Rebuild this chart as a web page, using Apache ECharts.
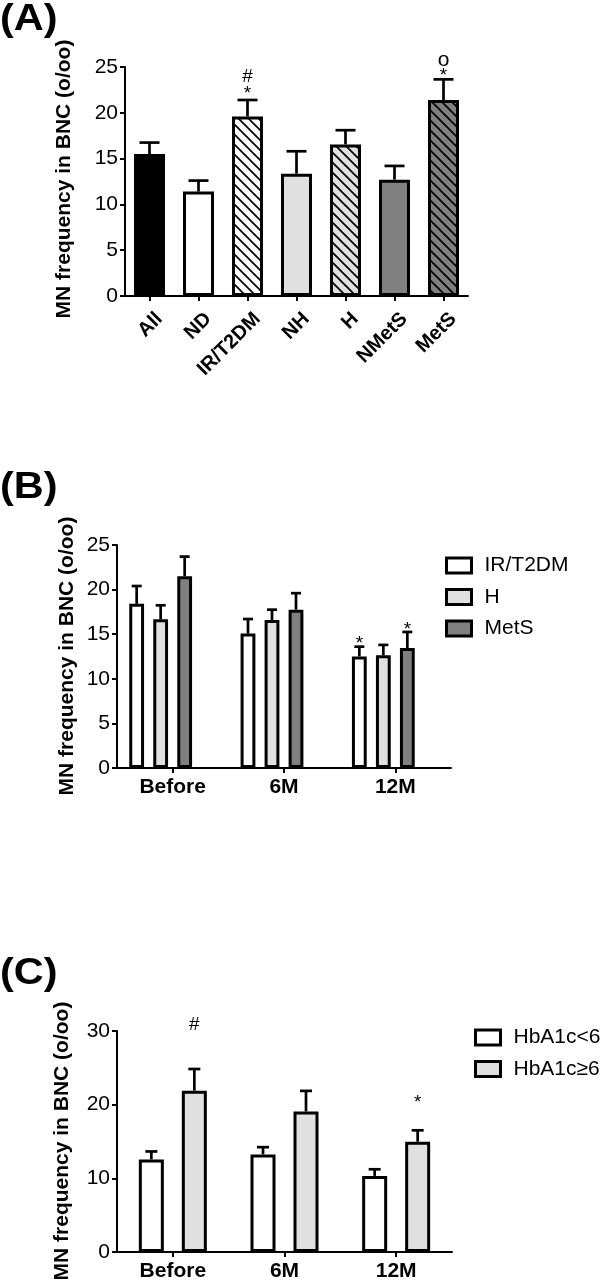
<!DOCTYPE html>
<html>
<head>
<meta charset="utf-8">
<script src="https://cdn.jsdelivr.net/npm/echarts@6/dist/echarts.min.js"></script>
<style>
html,body{margin:0;padding:0;background:#fff;}
#chart{width:600px;height:1282px;}
</style>
</head>
<body>
<div id="chart"></div>
<script>
// ---------- DATA ----------
const yAxisTitle = 'MN frequency in BNC (o/oo)';

// Panel A
const catsA = ['All', 'ND', 'IR/T2DM', 'NH', 'H', 'NMetS', 'MetS'];
const meanA = [15.5, 11.4, 19.6, 13.35, 16.55, 12.7, 21.4];
const errA  = [1.25, 1.2, 1.8, 2.45, 1.55, 1.5, 2.25];
// annotations: [categoryIndex, yValue, text]
const annotA = [[2, 22.5, '*'], [2, 23.9, '#'], [6, 24.45, '*'], [6, 25.75, 'o']];
const ticksA = [0, 5, 10, 15, 20, 25];

// Panel B
const catsB = ['Before', '6M', '12M'];
const namesB = ['IR/T2DM', 'H', 'MetS'];
const irB    = [18.4, 15.07, 12.5];
const irErrB = [2.0, 1.63, 1.1];
const hB     = [16.67, 16.6, 12.63];
const hErrB  = [1.57, 1.15, 1.17];
const metsB  = [21.5, 17.75, 13.45];
const metsErrB = [2.2, 1.85, 1.8];
// annotations: [categoryIndex, seriesIndex, yValue, text]
const annotB = [[2, 0, 14.4, '*'], [2, 2, 16.0, '*']];
const ticksB = [0, 5, 10, 15, 20, 25];

// Panel C
const catsC = ['Before', '6M', '12M'];
const namesC = ['HbA1c<6', 'HbA1c\u22656'];
const lowC    = [12.57, 13.25, 10.33];
const lowErrC = [1.08, 0.98, 0.9];
const highC    = [21.9, 19.08, 14.96];
const highErrC = [2.94, 2.79, 1.56];
const annotC = [[0, 1, 30.8, '#'], [2, 1, 20.8, '*']];
const ticksC = [0, 10, 20, 30];

// ---------- STYLE ----------
const FONT = '"Liberation Sans", Arial, Helvetica, sans-serif';
const WHITE = '#ffffff', LIGHT = '#e0e0e0', DARK = '#808080', BLACK = '#000000';
const BW = 3;

function hatch(bg) {
  const c = document.createElement('canvas');
  const s = 10;
  c.width = s; c.height = s;
  const ctx = c.getContext('2d');
  ctx.fillStyle = bg; ctx.fillRect(0, 0, s, s);
  ctx.strokeStyle = '#000'; ctx.lineWidth = 1.7;
  for (let k = -1; k <= 1; k++) {
    ctx.beginPath();
    ctx.moveTo(-2, -2 + k * s);
    ctx.lineTo(s + 2, s + 2 + k * s);
    ctx.stroke();
  }
  return { image: c, repeat: 'repeat' };
}
const fillsA = [BLACK, WHITE, hatch(WHITE), LIGHT, hatch(LIGHT), DARK, hatch(DARK)];

const chart = echarts.init(document.getElementById('chart'), null, { renderer: 'canvas' });

function axisCommon(extra) {
  return Object.assign({
    axisLine: { show: true, lineStyle: { color: '#000', width: 2 } },
    axisTick: { show: true, length: 5, inside: false, lineStyle: { color: '#000', width: 2 } },
    splitLine: { show: false }
  }, extra);
}

function yAxisDef(idx, ticks) {
  const step = ticks[1] - ticks[0];
  return axisCommon({
    type: 'value', gridIndex: idx, min: ticks[0], max: ticks[ticks.length - 1], interval: step,
    axisLabel: { color: '#000', fontFamily: FONT, fontSize: 21, margin: 7 }
  });
}

function xAxisDef(idx, cats, labelExtra) {
  return axisCommon({
    type: 'category', gridIndex: idx, data: cats, boundaryGap: true,
    axisTick: { show: true, alignWithLabel: true, length: 5, lineStyle: { color: '#000', width: 2 } },
    axisLabel: Object.assign({ color: '#000', fontFamily: FONT, fontSize: 21, fontWeight: 'bold', interval: 0 }, labelExtra)
  });
}

// bar geometry per panel
const geoA = { w: 31, gap: 0, n: 1, cap: 10 };
const geoB = { w: 14.8, gap: 9.2, n: 4, cap: 5 };
const geoC = { w: 25, gap: 18, n: 2, cap: 6 };
function slotOffset(g, i) { return (i - (g.n - 1) / 2) * (g.w + g.gap); }

function errSeries(axisIdx, means, errs, geo, slot) {
  const off = slotOffset(geo, slot);
  return {
    type: 'custom', xAxisIndex: axisIdx, yAxisIndex: axisIdx, z: 5, silent: true,
    data: means.map((m, i) => [i, m, errs[i]]),
    renderItem: function (params, api) {
      const c = api.value(0), m = api.value(1), e = api.value(2);
      const p0 = api.coord([c, m]), p1 = api.coord([c, m + e]);
      const x = p0[0] + off;
      const st = { stroke: '#000', lineWidth: 2.7 };
      return { type: 'group', children: [
        { type: 'line', shape: { x1: x, y1: p0[1], x2: x, y2: p1[1] }, style: st },
        { type: 'line', shape: { x1: x - geo.cap, y1: p1[1], x2: x + geo.cap, y2: p1[1] }, style: st }
      ]};
    }
  };
}

function annotSeries(axisIdx, items, geo) {
  // items: [cat, slot, y, text]
  return {
    type: 'custom', xAxisIndex: axisIdx, yAxisIndex: axisIdx, z: 6, silent: true,
    data: items.map(d => [d[0], d[2]]),
    renderItem: function (params, api) {
      const it = items[params.dataIndex];
      const p = api.coord([api.value(0), api.value(1)]);
      const t = it[3];
      const fs = t === 'o' ? 21 : 19;
      let dy = 0;
      if (t === '*') dy = 4;
      return { type: 'text', x: p[0] + slotOffset(geo, it[1]), y: p[1] + dy,
        style: { text: t, fill: '#000', font: fs + 'px ' + FONT, align: 'center', verticalAlign: 'middle' } };
    }
  };
}

const barStyle = (color) => ({ color: color, borderColor: '#000', borderWidth: BW });

const series = [];
// A
series.push({
  type: 'bar', name: 'A', xAxisIndex: 0, yAxisIndex: 0, barWidth: geoA.w,
  data: meanA.map((v, i) => ({ value: v, itemStyle: barStyle(fillsA[i]) }))
});
series.push(errSeries(0, meanA, errA, geoA, 0));
series.push(annotSeries(0, annotA.map(a => [a[0], 0, a[1], a[2]]), geoA));
// B
const colorsB = [WHITE, LIGHT, DARK];
const gapB = (geoB.gap / geoB.w * 100).toFixed(1) + '%';
[irB, hB, metsB].forEach((d, i) => {
  series.push({ type: 'bar', name: namesB[i], xAxisIndex: 1, yAxisIndex: 1,
    barWidth: geoB.w, barGap: gapB, itemStyle: barStyle(colorsB[i]), data: d });
});
series.push({ type: 'bar', name: 'blank', xAxisIndex: 1, yAxisIndex: 1, barWidth: geoB.w,
  barGap: gapB, itemStyle: { opacity: 0 }, data: catsB.map(() => '-') });
series.push(errSeries(1, irB, irErrB, geoB, 0));
series.push(errSeries(1, hB, hErrB, geoB, 1));
series.push(errSeries(1, metsB, metsErrB, geoB, 2));
series.push(annotSeries(1, annotB, geoB));
// C
const colorsC = [WHITE, LIGHT];
const gapC = (geoC.gap / geoC.w * 100).toFixed(1) + '%';
[lowC, highC].forEach((d, i) => {
  series.push({ type: 'bar', name: namesC[i], xAxisIndex: 2, yAxisIndex: 2,
    barWidth: geoC.w, barGap: gapC, itemStyle: barStyle(colorsC[i]), data: d });
});
series.push(errSeries(2, lowC, lowErrC, geoC, 0));
series.push(errSeries(2, highC, highErrC, geoC, 1));
series.push(annotSeries(2, annotC, geoC));

function legendDef(names, left, top) {
  return {
    data: names, orient: 'vertical', left: left, top: top, padding: 0,
    itemWidth: 25, itemHeight: 15, itemGap: 10.5, icon: 'rect', selectedMode: false,
    itemStyle: { borderColor: '#000', borderWidth: BW },
    textStyle: { color: '#000', fontFamily: FONT, fontSize: 21, lineHeight: 15, padding: [0, 0, 0, 8] }
  };
}

function txt(x, y, text, font, rot, sx) {
  return { type: 'text', x: x, y: y, rotation: rot || 0, scaleX: sx || 1,
    style: { text: text, font: font, fill: '#000', align: rot ? 'center' : 'left', verticalAlign: rot ? 'middle' : 'top' } };
}

const option = {
  backgroundColor: '#fff',
  animation: false,
  grid: [
    { left: 125, top: 67, width: 343, height: 229 },
    { left: 117, top: 545, width: 334, height: 223 },
    { left: 117, top: 1031, width: 335, height: 222 }
  ],
  xAxis: [
    xAxisDef(0, catsA, { rotate: 45, margin: 10, fontSize: 20, verticalAlign: 'top', lineHeight: 28 }),
    xAxisDef(1, catsB, { margin: 9 }),
    xAxisDef(2, catsC, { margin: 9 })
  ],
  yAxis: [yAxisDef(0, ticksA), yAxisDef(1, ticksB), yAxisDef(2, ticksC)],
  legend: [legendDef(namesB, 445, 555), legendDef(namesC, 474, 1027)],
  graphic: [
    txt(0, 1, '(A)', 'bold 37px ' + FONT, 0, 1.12),
    txt(0, 469, '(B)', 'bold 37px ' + FONT, 0, 1.12),
    txt(0, 955, '(C)', 'bold 37px ' + FONT, 0, 1.12),
    txt(64, 179, yAxisTitle, 'bold 21px ' + FONT, Math.PI / 2),
    txt(67, 656, yAxisTitle, 'bold 21px ' + FONT, Math.PI / 2),
    txt(62, 1141, yAxisTitle, 'bold 21px ' + FONT, Math.PI / 2)
  ],
  series: series
};
chart.setOption(option);
</script>
</body>
</html>
